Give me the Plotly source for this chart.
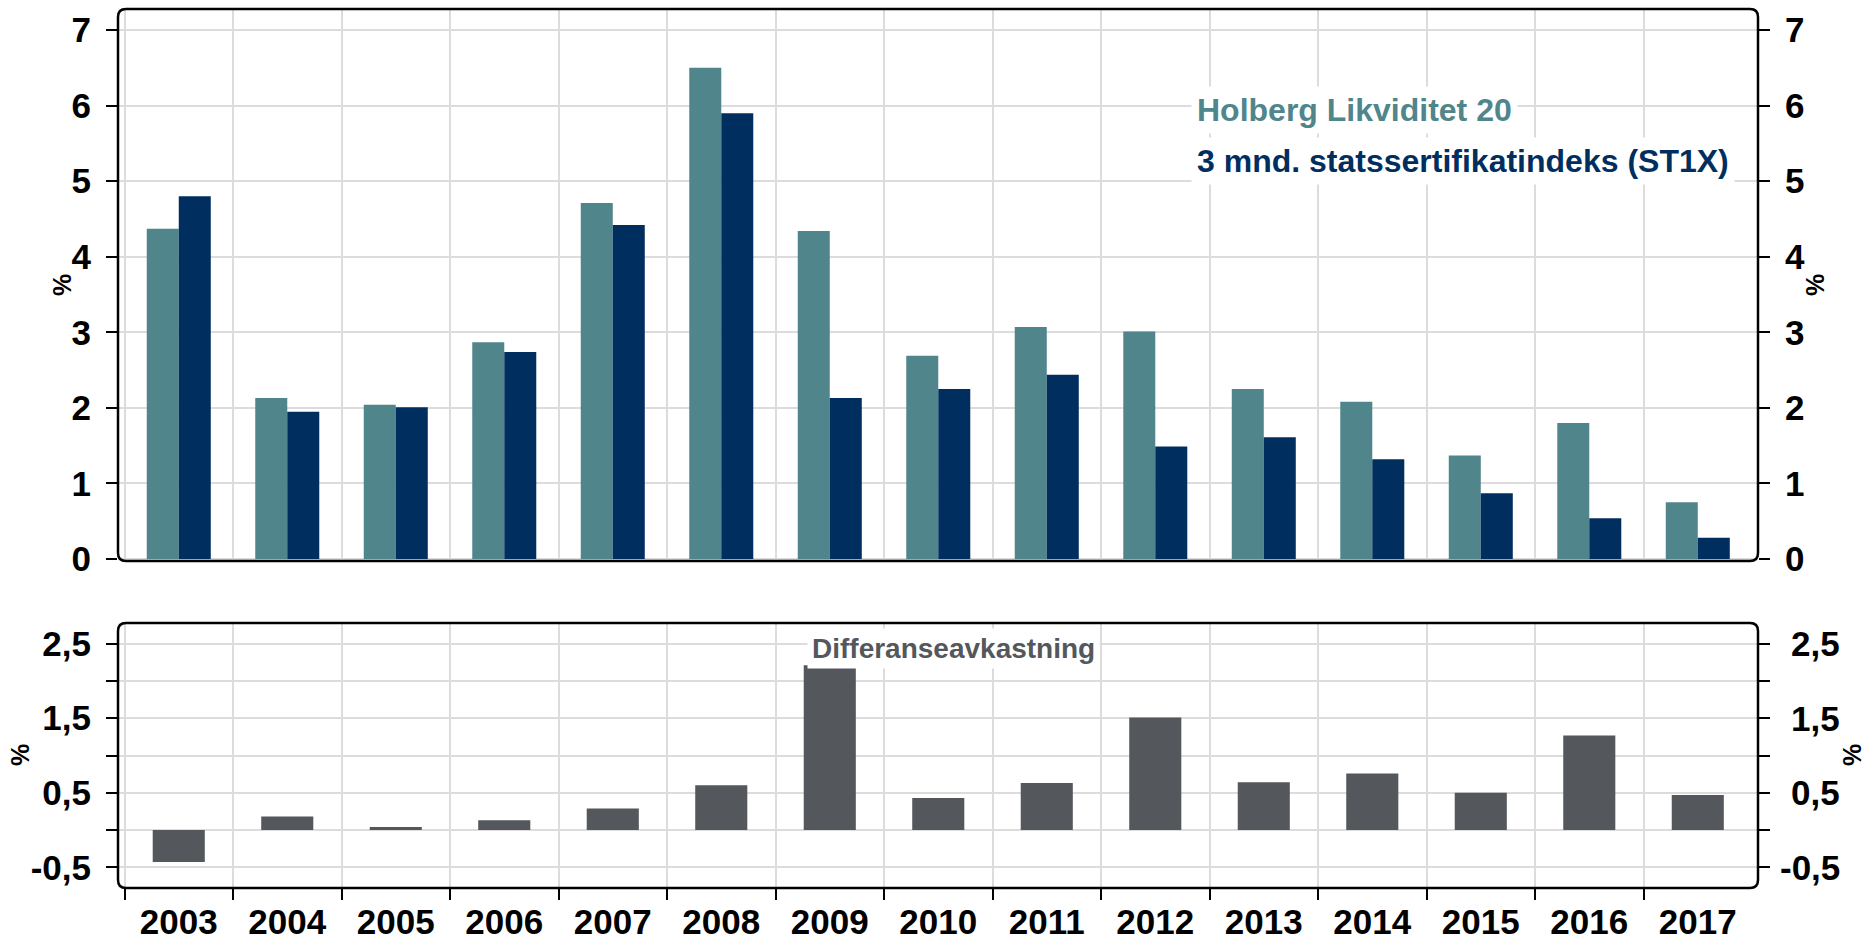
import plotly.graph_objects as go

# ---- data ----
years = [2003, 2004, 2005, 2006, 2007, 2008, 2009, 2010, 2011, 2012, 2013, 2014, 2015, 2016, 2017]
year_labels = ["2003", "2004", "2005", "2006", "2007", "2008", "2009", "2010",
               "2011", "2012", "2013", "2014", "2015", "2016", "2017"]
holberg = [4.37, 2.13, 2.04, 2.87, 4.71, 6.50, 4.34, 2.69, 3.07, 3.01, 2.25, 2.08, 1.37, 1.80, 0.75]
st1x = [4.80, 1.95, 2.01, 2.74, 4.42, 5.90, 2.13, 2.25, 2.44, 1.49, 1.61, 1.32, 0.87, 0.54, 0.28]
diff = [-0.43, 0.18, 0.04, 0.13, 0.29, 0.60, 2.21, 0.43, 0.63, 1.51, 0.64, 0.76, 0.50, 1.27, 0.47]

top_ticks = [0, 1, 2, 3, 4, 5, 6, 7]
top_ticktext = ["0", "1", "2", "3", "4", "5", "6", "7"]
bot_ticks = [-0.5, 0, 0.5, 1, 1.5, 2, 2.5]
bot_ticktext = ["-0,5", "", "0,5", "", "1,5", "", "2,5"]

name_a = "Holberg Likviditet 20"
name_b = "3 mnd. statssertifikatindeks (ST1X)"
diff_label = "Differanseavkastning"

TEAL = "#50858c"
NAVY = "#002f5f"
GREY = "#54575c"
GRID = "#dcdcdc"
FONT = "Liberation Sans, Arial, sans-serif"

W, H = 1868, 941
L, R, T, B = 118, 110, 9, 53
PW, PH = W - L - R, H - T - B


def fx(px):
    return (px - L) / PW


def fy(py):
    return (H - B - py) / PH


def rounded_rect(x0, y0, x1, y1, r=8):
    pts = [
        ("M", fx(x0 + r), fy(y0)),
        ("L", fx(x1 - r), fy(y0)),
        ("Q", fx(x1), fy(y0), fx(x1), fy(y0 + r)),
        ("L", fx(x1), fy(y1 - r)),
        ("Q", fx(x1), fy(y1), fx(x1 - r), fy(y1)),
        ("L", fx(x0 + r), fy(y1)),
        ("Q", fx(x0), fy(y1), fx(x0), fy(y1 - r)),
        ("L", fx(x0), fy(y0 + r)),
        ("Q", fx(x0), fy(y0), fx(x0 + r), fy(y0)),
    ]
    s = ""
    for p in pts:
        s += p[0] + " " + " ".join(f"{v:.6f}" for v in p[1:]) + " "
    return s + "Z"


boundaries = [y - 0.5 for y in years]
xrange_ = [2002.44, 2017.555]

fig = go.Figure()
fig.add_trace(go.Bar(x=years, y=holberg, name=name_a, marker=dict(color=TEAL, line=dict(width=0)),
                     width=0.295, offset=-0.295, xaxis="x", yaxis="y", showlegend=False))
fig.add_trace(go.Bar(x=years, y=st1x, name=name_b, marker=dict(color=NAVY, line=dict(width=0)),
                     width=0.295, offset=0.0, xaxis="x", yaxis="y", showlegend=False))
fig.add_trace(go.Bar(x=years, y=diff, name=diff_label, marker=dict(color=GREY, line=dict(width=0)),
                     width=0.48, xaxis="x2", yaxis="y2", showlegend=False))
# invisible helpers so the right-hand axes render
fig.add_trace(go.Scatter(x=[years[0]], y=[0], mode="markers", marker=dict(opacity=0),
                         xaxis="x", yaxis="y3", showlegend=False, hoverinfo="skip"))
fig.add_trace(go.Scatter(x=[years[0]], y=[0], mode="markers", marker=dict(opacity=0),
                         xaxis="x2", yaxis="y4", showlegend=False, hoverinfo="skip"))

tickfont = dict(family=FONT, size=35, color="black", weight="bold")
ycommon = dict(showline=False, zeroline=False, ticks="outside", ticklen=11, tickwidth=1.5,
               tickcolor="black", tickfont=tickfont, fixedrange=True, automargin=False)

top_range = [-0.026, 7.278]
bot_range = [-0.778, 2.778]
top_dom = [fy(561), 1.0]
bot_dom = [0.0, fy(623)]

fig.update_layout(
    width=W, height=H,
    margin=dict(l=L, r=R, t=T, b=B, pad=0, autoexpand=False),
    paper_bgcolor="white", plot_bgcolor="white",
    barmode="overlay",
    hovermode=False,
    showlegend=False,
    xaxis=dict(domain=[0, 1], anchor="y", range=xrange_, tickmode="array", tickvals=boundaries,
               showticklabels=False, ticks="", showgrid=True, gridcolor=GRID, gridwidth=1.5,
               showline=False, zeroline=False, automargin=False, fixedrange=True),
    xaxis2=dict(domain=[0, 1], anchor="y2", range=xrange_, tickmode="array", tickvals=years,
                ticktext=year_labels, ticks="", showgrid=False, showline=False, zeroline=False,
                automargin=False, fixedrange=True,
                tickfont=dict(family=FONT, size=35, color="black", weight="bold"),
                ticklabelstandoff=10,
                minor=dict(tickmode="array", tickvals=boundaries, ticks="outside", ticklen=11,
                           tickwidth=1.5, tickcolor="black", showgrid=True, gridcolor=GRID,
                           gridwidth=1.5)),
    yaxis=dict(domain=top_dom, anchor="x", range=top_range, tickmode="array", tickvals=top_ticks,
               ticktext=top_ticktext, showgrid=True, gridcolor=GRID, gridwidth=1.5,
               ticklabelstandoff=8, **ycommon),
    yaxis3=dict(overlaying="y", side="right", anchor="x", range=top_range, tickmode="array",
                tickvals=top_ticks, ticktext=top_ticktext, showgrid=False,
                ticklabelstandoff=8, **ycommon),
    yaxis2=dict(domain=bot_dom, anchor="x2", range=bot_range, tickmode="array", tickvals=bot_ticks,
                ticktext=bot_ticktext, showgrid=True, gridcolor=GRID, gridwidth=1.5,
                ticklabelstandoff=8, **ycommon),
    yaxis4=dict(overlaying="y2", side="right", anchor="x2", range=bot_range, tickmode="array",
                tickvals=bot_ticks, showticklabels=False, showgrid=False, **ycommon),
)

# right-hand labels of the lower panel, right-aligned like the reference
for v, t in zip(bot_ticks, bot_ticktext):
    if t:
        fig.add_annotation(x=fx(1842), y=v, xref="paper", yref="y2", xanchor="right",
                           yanchor="middle", text=t, showarrow=False, font=tickfont)

# rounded frames
for (x0, y0, x1, y1) in [(118, 9, 1758, 561), (118, 623, 1758, 888)]:
    fig.add_shape(type="path", path=rounded_rect(x0, y0, x1, y1), xref="paper", yref="paper",
                  line=dict(color="black", width=2.5), fillcolor="rgba(0,0,0,0)", layer="above")

# legend-like labels
lab_font = dict(family=FONT, size=32, weight="bold")
fig.add_annotation(x=fx(1191), y=fy(109.5), xref="paper", yref="paper", xanchor="left",
                   yanchor="middle", text=name_a, showarrow=False, bgcolor="white", borderpad=5,
                   font=dict(color=TEAL, **lab_font))
fig.add_annotation(x=fx(1191), y=fy(160.5), xref="paper", yref="paper", xanchor="left",
                   yanchor="middle", text=name_b, showarrow=False, bgcolor="white", borderpad=5,
                   font=dict(color=NAVY, **lab_font))
fig.add_annotation(x=fx(807), y=fy(648.5), xref="paper", yref="paper", xanchor="left",
                   yanchor="middle", text=diff_label, showarrow=False, bgcolor="white", borderpad=4,
                   font=dict(color=GREY, family=FONT, size=28, weight="bold"))

# "%" axis titles
pct_font = dict(family=FONT, size=25, color="black", weight="bold")
for (px, py) in [(62, 285), (1815, 285), (20, 755), (1852, 755)]:
    fig.add_annotation(x=fx(px), y=fy(py), xref="paper", yref="paper", xanchor="center",
                       yanchor="middle", text="%", textangle=-90, showarrow=False, font=pct_font,
                       borderpad=0)

fig.write_html(
    "out.html",
    config={"displayModeBar": False},
    post_script="document.body.style.margin='0';document.body.style.overflow='hidden';",
)
